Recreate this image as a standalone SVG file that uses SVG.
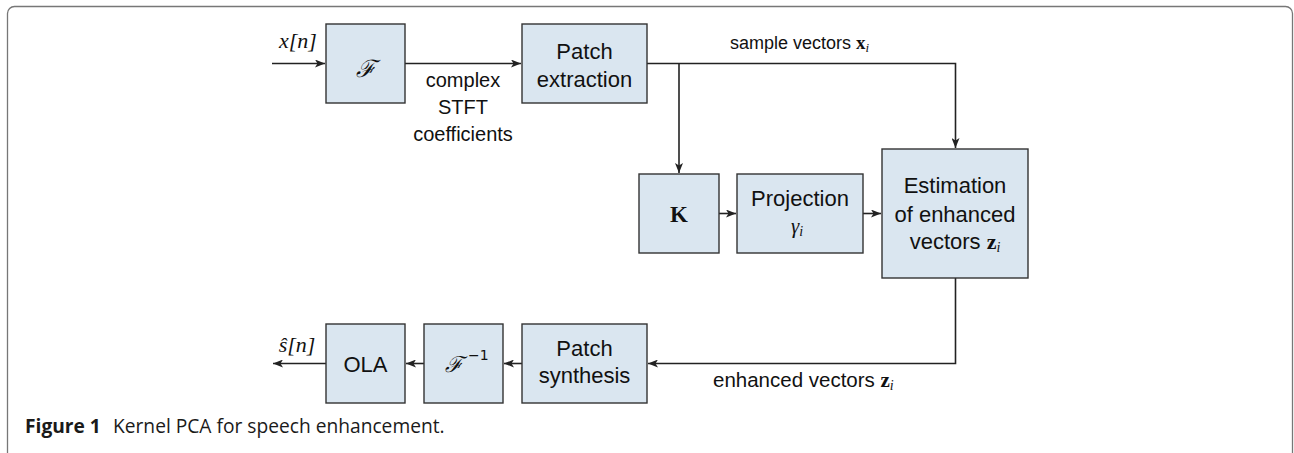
<svg xmlns="http://www.w3.org/2000/svg" width="1294" height="453" viewBox="0 0 1294 453">
<style>
.box{fill:#dae6f0;stroke:#333;stroke-width:1.4}
.t{font-family:"Liberation Sans",Arial,sans-serif;font-size:22px;fill:#111;text-anchor:middle}
.lbl{font-family:"Liberation Sans",Arial,sans-serif;fill:#111}
.m{font-family:"Liberation Serif","Times New Roman",serif;fill:#111}
.it{font-style:italic}
.bf{font-weight:bold}
.c{stroke:#222;stroke-width:1.6;fill:none}
.cap{font-family:"Open Sans","Noto Sans",sans-serif;font-size:19.2px;fill:#1a1a1a}
</style>
<defs>
<marker id="arr" viewBox="0 0 10 8" refX="10" refY="4" markerWidth="10" markerHeight="8" markerUnits="userSpaceOnUse" orient="auto">
<path d="M0,0 L10,4 L0,8 L2.5,4 z" fill="#222"/>
</marker>
</defs>
<rect x="7.5" y="6.5" width="1285" height="480" rx="7" ry="7" fill="none" stroke="#777" stroke-width="1.3"/>

<g id="connectors">
<line class="c" x1="272" y1="63.5" x2="325" y2="63.5" marker-end="url(#arr)"/>
<line class="c" x1="405" y1="63.5" x2="521" y2="63.5" marker-end="url(#arr)"/>
<polyline class="c" points="647,63.5 955.5,63.5 955.5,148" marker-end="url(#arr)"/>
<line class="c" x1="679" y1="63.5" x2="679" y2="173" marker-end="url(#arr)"/>
<line class="c" x1="719" y1="213.5" x2="736" y2="213.5" marker-end="url(#arr)"/>
<line class="c" x1="863" y1="213.5" x2="881" y2="213.5" marker-end="url(#arr)"/>
<polyline class="c" points="955.5,278 955.5,363.5 648,363.5" marker-end="url(#arr)"/>
<line class="c" x1="522" y1="363.5" x2="504" y2="363.5" marker-end="url(#arr)"/>
<line class="c" x1="424" y1="363.5" x2="406" y2="363.5" marker-end="url(#arr)"/>
<line class="c" x1="326" y1="363.5" x2="273" y2="363.5" marker-end="url(#arr)"/>
<text class="m it" x="298" y="48" font-size="22" text-anchor="middle">x[n]</text>
<text class="lbl" x="463" y="87" font-size="20" text-anchor="middle">complex</text>
<text class="lbl" x="463" y="114" font-size="20" text-anchor="middle">STFT</text>
<text class="lbl" x="463" y="141" font-size="20" text-anchor="middle">coefficients</text>
<text class="lbl" x="730" y="49" font-size="18">sample vectors <tspan class="m bf" font-size="19">x</tspan><tspan class="m it" font-size="13" dy="3">i</tspan></text>
<text class="lbl" x="713" y="387" font-size="20.5">enhanced vectors <tspan class="m bf" font-size="21">z</tspan><tspan class="m it" font-size="14" dy="3">i</tspan></text>
<text class="m it" x="297" y="352" font-size="22" text-anchor="middle">ŝ[n]</text>
</g>

<g id="node-F">
<rect class="box" x="326" y="24" width="79" height="79"/>
<text x="365.5" y="77" font-family="'DejaVu Serif','Liberation Serif',serif" font-style="italic" font-size="24" text-anchor="middle" fill="#111">ℱ</text>
</g>
<g id="node-patch-extraction">
<rect class="box" x="522" y="24" width="125" height="79"/>
<text class="t" x="584.5" y="59">Patch</text>
<text class="t" x="584.5" y="87">extraction</text>
</g>
<g id="node-K">
<rect class="box" x="639" y="174" width="80" height="79"/>
<text class="m bf" x="679" y="222" font-size="23" text-anchor="middle">K</text>
</g>
<g id="node-projection">
<rect class="box" x="737" y="174" width="126" height="79"/>
<text class="t" x="800" y="206">Projection</text>
<text class="m it" x="797" y="233" font-size="21" text-anchor="middle">γ<tspan font-size="14" dy="3">i</tspan></text>
</g>
<g id="node-estimation">
<rect class="box" x="882" y="149" width="146" height="129"/>
<text class="t" x="955" y="193">Estimation</text>
<text class="t" x="955" y="221.5">of enhanced</text>
<text class="t" x="955" y="248.5">vectors <tspan class="m bf" font-size="22">z</tspan><tspan class="m it" font-size="14" dy="3">i</tspan></text>
</g>
<g id="node-OLA">
<rect class="box" x="326" y="324" width="79" height="79"/>
<text class="t" x="365.5" y="372">OLA</text>
</g>
<g id="node-Finv">
<rect class="box" x="424" y="324" width="79" height="79"/>
<text x="454" y="372" font-family="'DejaVu Serif','Liberation Serif',serif" font-style="italic" font-size="22" text-anchor="middle" fill="#111">ℱ</text>
<text x="468" y="360" font-family="'DejaVu Sans','Liberation Sans',sans-serif" font-size="14" fill="#111">−1</text>
</g>
<g id="node-patch-synthesis">
<rect class="box" x="522" y="324" width="125" height="79"/>
<text class="t" x="584.5" y="356">Patch</text>
<text class="t" x="584.5" y="383">synthesis</text>
</g>
<text class="cap" x="25" y="433"><tspan font-weight="bold">Figure 1</tspan><tspan x="113">Kernel PCA for speech enhancement.</tspan></text>
</svg>
